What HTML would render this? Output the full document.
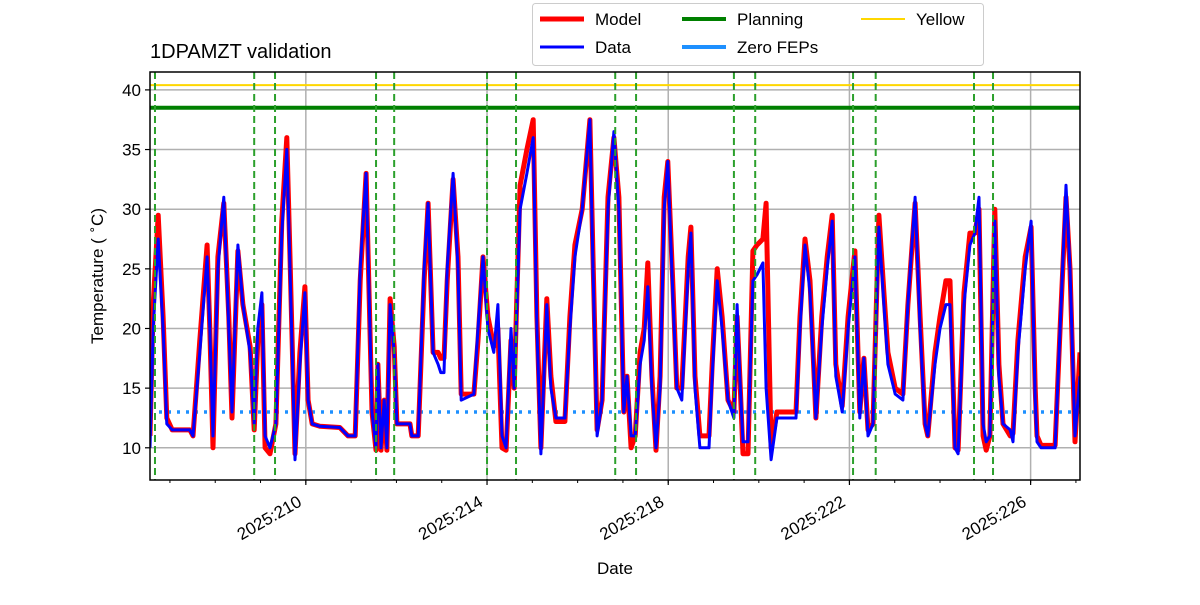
<!DOCTYPE html>
<html><head><meta charset="utf-8"><style>
body{margin:0;background:#fff;font-family:"Liberation Sans","DejaVu Sans",sans-serif;}
svg text{font-family:"Liberation Sans","DejaVu Sans",sans-serif;}
</style></head><body>
<svg id="c" width="1200" height="600" xmlns="http://www.w3.org/2000/svg"></svg>
<script>
const times=[206.56,206.63,206.74,206.85,206.93,207.05,207.44,207.51,207.66,207.82,207.88,207.95,208.06,208.19,208.30,208.37,208.50,208.61,208.77,208.86,208.94,209.03,209.10,209.21,209.34,209.47,209.58,209.65,209.76,209.87,209.98,210.05,210.14,210.31,210.75,210.93,211.09,211.20,211.33,211.46,211.55,211.59,211.66,211.73,211.79,211.86,211.95,212.01,212.30,212.34,212.48,212.61,212.70,212.81,212.92,212.98,213.05,213.12,213.25,213.36,213.43,213.71,213.80,213.91,214.02,214.15,214.24,214.33,214.42,214.53,214.60,214.73,214.88,215.02,215.10,215.19,215.32,215.41,215.52,215.72,215.83,215.94,216.10,216.27,216.34,216.43,216.54,216.67,216.80,216.91,217.02,217.09,217.18,217.27,217.38,217.47,217.55,217.64,217.73,217.82,217.91,217.99,218.11,218.19,218.30,218.44,218.50,218.59,218.70,218.90,218.97,219.08,219.19,219.32,219.45,219.52,219.58,219.65,219.76,219.87,219.96,220.09,220.16,220.27,220.40,220.82,220.91,221.02,221.13,221.26,221.39,221.51,221.62,221.70,221.84,221.97,222.12,222.23,222.32,222.41,222.52,222.65,222.76,222.85,223.01,223.18,223.29,223.45,223.56,223.67,223.73,223.89,224.00,224.13,224.22,224.33,224.40,224.53,224.66,224.77,224.86,224.95,225.02,225.10,225.21,225.30,225.39,225.55,225.61,225.72,225.88,226.01,226.10,226.14,226.23,226.43,226.54,226.65,226.78,226.87,226.98,227.09];
const dataVals=[10,20,27.5,20,12,11.5,11.5,11,18,26,20,11,25,31,20,13,27,22,18,12,20,23,11,10,12,28,35,25,9,17,23,14,12,11.8,11.7,11,11,25,33,13,10,17,10,14,10,22,18,12,12,11,11,25,30.5,18,17,16.3,16.3,25,33,25,14,14.5,20,26,20,18,22,11,10,20,15,30,33,36,20,9.5,22,15,12.5,12.5,20,26,30,37.5,25,11,14,30,36.5,30,13,16,11,11,17,19,23.5,15,10,15,30,34,22,15,14,25,28,15,10,10,16,24,20,14,12.5,22,16,10.5,10.5,24,24.5,25.5,15,9,12.5,12.5,20,27,23,12.5,20,25,29,16,13,20,26,12.5,17.5,11,12,28.5,22,17,14.5,14,22,31,20,12,11,17,20,22,22,10,9.5,22,27,28,31,12,10.5,11,29,16,12,11.5,10.5,18,25,29,14,10.5,10,10,10,20,32,25,11,16];
const modelVals=[11,22,29.5,21,12.5,11.5,11.5,11,19,27,20,10,26,30.5,21,12.5,26.5,22,18.5,11.5,19,22,10,9.5,12,29,36,26,9.5,18,23.5,14,12,11.8,11.7,11,11,24,33,13,9.8,17,9.8,14,9.8,22.5,18.5,12,12,11,11,24,30.5,18,18,17.5,17.5,24,32.5,26,14.5,14.5,19,26,21,18.5,20,10,9.8,19,15,32,35,37.5,21,10,22.5,16,12.2,12.2,21,27,30,37.5,26,11.5,14,31,36,31,13,16,10,11,18,20,25.5,16,9.8,16,31,34,23,15,15,26,28.5,16,11,11,17,25,21,14,13,21,16,9.5,9.5,26.5,27,27.5,30.5,10,13,13,21,27.5,24,12.5,21,26,29.5,17,13.5,21,26.5,13,17.5,11.5,12,29.5,23,18,15,14.5,22,30.5,21,12,11,18,21,24,24,10,9.8,23,28,28,30,11,9.8,11,30,17,12,11,11.2,19,26,28.5,15,11,10.2,10.2,10.2,20,31,25,10.5,18];
const eventDays=[206.67,208.86,209.32,211.55,211.95,214.00,214.64,216.83,217.29,219.45,219.92,222.08,222.58,224.75,225.17];
const yTicks=[10,15,20,25,30,35,40];
const xTicks=[210,214,218,222,226];
const xTickLabels=["2025:210","2025:214","2025:218","2025:222","2025:226"];
const planningLimit=38.5, yellowLimit=40.4, zeroFep=13;

const L=150,R=1080,T=72,B=480;
const x0=206.56,x1=227.09,y0=7.3,y1=41.5;
const X=d=>L+(d-x0)/(x1-x0)*(R-L);
const Y=v=>B-(v-y0)/(y1-y0)*(B-T);
const svg=document.getElementById('c');
const NS='http://www.w3.org/2000/svg';
function mk(tag,attrs,parent){const e=document.createElementNS(NS,tag);for(const k in attrs)e.setAttribute(k,attrs[k]);(parent||svg).appendChild(e);return e;}

const defs=mk('clipPath',{id:'clip'});mk('rect',{x:L,y:T,width:R-L,height:B-T},defs);
yTicks.forEach(v=>{const g=mk('line',{x1:L,x2:R,y1:Y(v),y2:Y(v),stroke:'#b0b0b0','stroke-width':1.5});

});
xTicks.forEach(v=>{const g=mk('line',{x1:X(v),x2:X(v),y1:T,y2:B,stroke:'#b0b0b0','stroke-width':1.5});

});
const plot=mk('g',{'clip-path':'url(#clip)'});


const h1=mk('line',{x1:L,x2:R,y1:Y(planningLimit),y2:Y(planningLimit),stroke:'#008000','stroke-width':4},plot);


const h2=mk('line',{x1:L,x2:R,y1:Y(yellowLimit),y2:Y(yellowLimit),stroke:'#ffd700','stroke-width':2},plot);


const h3=mk('line',{x1:L,x2:R,y1:Y(zeroFep),y2:Y(zeroFep),stroke:'#1e90ff','stroke-width':3.5,'stroke-dasharray':'3 6'},plot);


const pts=vals=>times.map((t,i)=>X(t).toFixed(1)+','+Y(vals[i]).toFixed(1)).join(' ');
const m=mk('polyline',{points:pts(modelVals),fill:'none',stroke:'#ff0000','stroke-width':5,'stroke-linejoin':'round'},plot);


const d=mk('polyline',{points:pts(dataVals),fill:'none',stroke:'#0000ff','stroke-width':3,'stroke-linejoin':'round'},plot);


eventDays.forEach(v=>{const e=mk('line',{x1:X(v),x2:X(v),y1:T,y2:B,stroke:'#2ca02c','stroke-width':2,'stroke-dasharray':'7 4'},plot);

});
const fr=mk('rect',{x:L,y:T,width:R-L,height:B-T,fill:'none',stroke:'#000','stroke-width':1.5});


yTicks.forEach(v=>{mk('line',{x1:L-5,x2:L,y1:Y(v),y2:Y(v),stroke:'#000','stroke-width':1.2});
const t=mk('text',{x:L-9,y:Y(v)+6,'text-anchor':'end','font-size':17});t.textContent=v;

});
for(let dd=207;dd<=227;dd++){mk('line',{x1:X(dd),x2:X(dd),y1:B,y2:B+3,stroke:'#000','stroke-width':1});}
xTicks.forEach((v,i)=>{mk('line',{x1:X(v),x2:X(v),y1:B,y2:B+5,stroke:'#000','stroke-width':1.2});
const tx=X(v)-3, ty=B+25;
const t=mk('text',{x:tx,y:ty,'text-anchor':'end','font-size':17,transform:`rotate(-30 ${tx} ${ty})`});t.textContent=xTickLabels[i];

});
</script>
<svg style="position:absolute;left:0;top:0" width="1200" height="600" xmlns="http://www.w3.org/2000/svg">
<text x="150" y="58" font-size="20">1DPAMZT validation</text>
<text x="615" y="574" font-size="17" text-anchor="middle">Date</text>
<text id="yt" x="103" y="276" font-size="17" text-anchor="middle" transform="rotate(-90 103 276)">Temperature (°C)</text>
<g>
<rect x="532.5" y="3.5" width="451" height="62" rx="3" fill="#fff" stroke="#ccc"/>
<g><line x1="540" x2="584" y1="19" y2="19" stroke="#f00" stroke-width="5"/><text x="595" y="25" font-size="17">Model</text></g>
<g><line x1="540" x2="584" y1="47" y2="47" stroke="#00f" stroke-width="3"/><text x="595" y="53" font-size="17">Data</text></g>
<g><line x1="682" x2="726" y1="19" y2="19" stroke="#008000" stroke-width="4"/><text x="737" y="25" font-size="17">Planning</text></g>
<g><line x1="682" x2="726" y1="47" y2="47" stroke="#1e90ff" stroke-width="4"/><text x="737" y="53" font-size="17">Zero FEPs</text></g>
<g><line x1="861" x2="905" y1="19" y2="19" stroke="#ffd700" stroke-width="2"/><text x="916" y="25" font-size="17">Yellow</text></g>
</g>
</svg>
<script>
document.getElementById('yt').innerHTML='Temperature ( <tspan font-size="12" dy="-7">\u2218</tspan><tspan dy="7">C)</tspan>';
</script>
</body></html>
